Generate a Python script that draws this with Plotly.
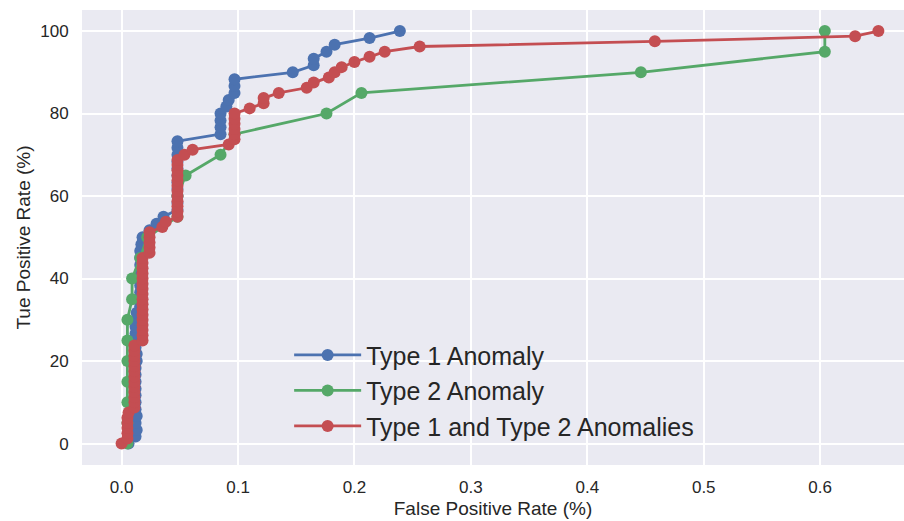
import plotly.graph_objects as go

# Type 1 Anomaly
blue_fpr = [0.006, 0.012, 0.013, 0.012, 0.013, 0.012, 0.012, 0.012, 0.012, 0.012,
            0.012, 0.012, 0.013, 0.013, 0.012, 0.013, 0.012, 0.012, 0.013, 0.013,
            0.016, 0.016, 0.016, 0.016, 0.016, 0.016, 0.016, 0.016, 0.016, 0.017,
            0.018, 0.024, 0.030, 0.036, 0.048, 0.048, 0.048, 0.048, 0.048, 0.048,
            0.048, 0.048, 0.048, 0.048, 0.048, 0.085, 0.085, 0.085, 0.085, 0.090,
            0.092, 0.097, 0.097, 0.097, 0.147, 0.165, 0.165, 0.176, 0.183, 0.213,
            0.239]
blue_tpr = [0.0, 1.7, 3.3, 5.0, 6.7, 8.3, 10.0, 11.7, 13.3, 15.0,
            16.7, 18.3, 20.0, 21.7, 23.3, 25.0, 26.7, 28.3, 30.0, 31.7,
            33.3, 35.0, 36.7, 38.3, 40.0, 41.7, 43.3, 45.0, 46.7, 48.3,
            50.0, 51.7, 53.3, 55.0, 56.7, 58.3, 60.0, 61.7, 63.3, 65.0,
            66.7, 68.3, 70.0, 71.7, 73.3, 75.0, 76.7, 78.3, 80.0, 81.7,
            83.3, 85.0, 86.7, 88.3, 90.0, 91.7, 93.3, 95.0, 96.7, 98.3,
            100.0]

# Type 2 Anomaly
green_fpr = [0.005, 0.005, 0.005, 0.005, 0.005, 0.005, 0.005, 0.009, 0.009, 0.016,
             0.022, 0.048, 0.048, 0.055, 0.085, 0.097, 0.176, 0.206, 0.446, 0.604,
             0.604]
green_tpr = [0, 5, 10, 15, 20, 25, 30, 35, 40, 45,
             50, 55, 60, 65, 70, 75, 80, 85, 90, 95,
             100]

# Type 1 and Type 2 Anomalies
red_fpr = [0.000, 0.005, 0.005, 0.005, 0.005, 0.005, 0.006, 0.011, 0.011, 0.011,
           0.011, 0.011, 0.011, 0.011, 0.011, 0.011, 0.011, 0.011, 0.011, 0.011,
           0.018, 0.018, 0.018, 0.018, 0.018, 0.018, 0.018, 0.018, 0.018, 0.018,
           0.018, 0.018, 0.018, 0.018, 0.018, 0.018, 0.018, 0.024, 0.024, 0.024,
           0.024, 0.024, 0.035, 0.038, 0.048, 0.048, 0.048, 0.048, 0.048, 0.048,
           0.048, 0.048, 0.048, 0.048, 0.048, 0.048, 0.054, 0.061, 0.092, 0.097,
           0.097, 0.097, 0.097, 0.097, 0.097, 0.110, 0.122, 0.122, 0.135, 0.159,
           0.165, 0.178, 0.183, 0.189, 0.200, 0.213, 0.226, 0.256, 0.458, 0.630,
           0.650]
red_tpr = [0.0, 1.25, 2.5, 3.75, 5.0, 6.25, 7.5, 8.75, 10.0, 11.25,
           12.5, 13.75, 15.0, 16.25, 17.5, 18.75, 20.0, 21.25, 22.5, 23.75,
           25.0, 26.25, 27.5, 28.75, 30.0, 31.25, 32.5, 33.75, 35.0, 36.25,
           37.5, 38.75, 40.0, 41.25, 42.5, 43.75, 45.0, 46.25, 47.5, 48.75,
           50.0, 51.25, 52.5, 53.75, 55.0, 56.25, 57.5, 58.75, 60.0, 61.25,
           62.5, 63.75, 65.0, 66.25, 67.5, 68.75, 70.0, 71.25, 72.5, 73.75,
           75.0, 76.25, 77.5, 78.75, 80.0, 81.25, 82.5, 83.75, 85.0, 86.25,
           87.5, 88.75, 90.0, 91.25, 92.5, 93.75, 95.0, 96.25, 97.5, 98.75,
           100.0]

series_names = ["Type 1 Anomaly", "Type 2 Anomaly", "Type 1 and Type 2 Anomalies"]
colors = ["#4C72B0", "#55A868", "#C44E52"]
x_ticks = [0.0, 0.1, 0.2, 0.3, 0.4, 0.5, 0.6]
y_ticks = [0, 20, 40, 60, 80, 100]

FONT = "Liberation Sans, Arial, sans-serif"

fig = go.Figure()
for name, xs, ys, c in zip(series_names,
                           [blue_fpr, green_fpr, red_fpr],
                           [blue_tpr, green_tpr, red_tpr], colors):
    fig.add_trace(go.Scatter(
        x=xs, y=ys, name=name, mode="lines+markers",
        line=dict(color=c, width=2.8),
        marker=dict(color=c, size=12, line=dict(width=0)),
    ))

fig.update_layout(
    width=904, height=521,
    margin=dict(l=82, r=0, t=10, b=56),
    paper_bgcolor="white",
    plot_bgcolor="#EAEAF2",
    font=dict(family=FONT, color="#262626", size=17),
    showlegend=True,
    legend=dict(
        x=0.252, y=0.292, xanchor="left", yanchor="top",
        bgcolor="rgba(0,0,0,0)",
        font=dict(size=25, color="#262626", family=FONT),
        itemwidth=67,
        tracegroupgap=0,
    ),
)
fig.update_xaxes(
    range=[-0.034, 0.672],
    tickvals=x_ticks, ticktext=[f"{v:.1f}" for v in x_ticks],
    showgrid=True, gridcolor="white", gridwidth=1.5,
    zeroline=False, showline=False,
    ticks="outside", ticklen=7, tickcolor="rgba(0,0,0,0)",
    tickfont=dict(size=17, color="#262626"),
    title=dict(text="False Positive Rate (%)", font=dict(size=19, color="#262626"), standoff=5),
)
fig.update_yaxes(
    range=[-5.2, 105.1],
    tickvals=y_ticks, ticktext=[str(v) for v in y_ticks],
    showgrid=True, gridcolor="white", gridwidth=1.5,
    zeroline=False, showline=False,
    ticks="outside", ticklen=9, tickcolor="rgba(0,0,0,0)",
    tickfont=dict(size=17, color="#262626"),
    title=dict(text="Tue Positive Rate (%)", font=dict(size=19, color="#262626"), standoff=4),
)

fig.write_html("out.html")
